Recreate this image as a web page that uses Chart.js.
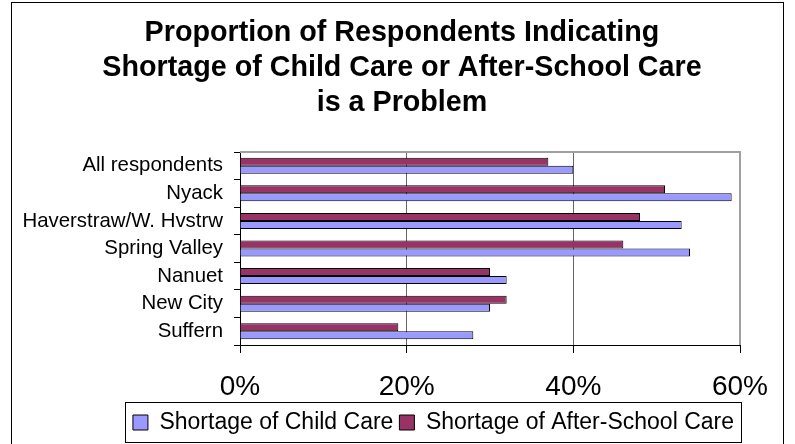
<!DOCTYPE html>
<html>
<head>
<meta charset="utf-8">
<title>Child Care Shortage</title>
<script src="https://cdn.jsdelivr.net/npm/chart.js@4.4.1/dist/chart.umd.min.js"></script>
<style>
  html, body { margin: 0; padding: 0; background: #fff; }
  #wrap { width: 795px; height: 444px; position: relative; }
</style>
</head>
<body>
<div id="wrap"><canvas id="careChart"></canvas></div>
<script>
// survey data (percent of respondents)
var areas = ['All respondents', 'Nyack', 'Haverstraw/W. Hvstrw', 'Spring Valley', 'Nanuet', 'New City', 'Suffern'];
var childCare = [40, 59, 53, 54, 32, 30, 28];
var afterSchool = [37, 51, 48, 46, 30, 32, 19];
var xTicks = [0, 20, 40, 60];
var titleLines = ['Proportion of Respondents Indicating', 'Shortage of Child Care or After-School Care', 'is a Problem'];

var font = 'Liberation Sans, Arial, sans-serif';

// white page, title block, outer frame, grey plot border, legend box
var framePlugin = {
    id: 'frame',
    beforeDraw: function(chart) {
        var c = chart.ctx;
        c.save();
        c.fillStyle = '#fff';
        c.fillRect(0, 0, chart.width, chart.height);
        c.restore();
    },
    afterDraw: function(chart) {
        var c = chart.ctx;
        var a = chart.chartArea;
        c.save();

        c.fillStyle = '#000';
        c.font = 'bold 28.7px ' + font;
        c.textAlign = 'center';
        c.textBaseline = 'alphabetic';
        titleLines.forEach(function(line, i) {
            c.fillText(line, 402, 41 + i * 35);
        });

        c.strokeStyle = '#a0a0a0';
        c.lineWidth = 2;
        c.beginPath();
        c.moveTo(a.left, a.top);
        c.lineTo(a.right, a.top);
        c.lineTo(a.right, a.bottom);
        c.stroke();

        var boxes = chart.legend.legendHitBoxes;
        if (boxes && boxes.length) {
            var l = Math.min.apply(null, boxes.map(function(b) { return b.left; }));
            var r = Math.max.apply(null, boxes.map(function(b) { return b.left + b.width; }));
            var t = boxes[0].top;
            var h = boxes[0].height;
            c.strokeStyle = '#000';
            c.lineWidth = 1;
            c.strokeRect(Math.round(l - 8) + 0.5, Math.round(t - 9) + 0.5, Math.round(r - l + 15), Math.round(h + 17));
        }

        c.strokeStyle = '#000';
        c.lineWidth = 1;
        c.strokeRect(11.5, 2.5, 772, 460);
        c.restore();
    }
};

var ctx = document.getElementById('careChart').getContext('2d');
new Chart(ctx, {
    type: 'bar',
    data: {
        labels: areas,
        datasets: [
            {
                label: 'Shortage of After-School Care',
                data: afterSchool,
                backgroundColor: '#993366',
                borderColor: '#000',
                borderWidth: 1
            },
            {
                label: 'Shortage of Child Care',
                data: childCare,
                backgroundColor: '#9999FF',
                borderColor: '#000',
                borderWidth: 1
            }
        ]
    },
    options: {
        indexAxis: 'y',
        responsive: true,
        maintainAspectRatio: false,
        animation: false,
        layout: {
            padding: { left: 0, right: 55, top: 152, bottom: 0 }
        },
        datasets: {
            bar: { categoryPercentage: 0.58, barPercentage: 1 }
        },
        plugins: {
            title: { display: false },
            legend: {
                position: 'bottom',
                align: 'end',
                labels: {
                    color: '#000',
                    font: { family: font, size: 23 },
                    boxWidth: 15,
                    boxHeight: 15,
                    padding: 6,
                    sort: function(a, b) { return b.datasetIndex - a.datasetIndex; }
                }
            },
            tooltip: { enabled: false }
        },
        scales: {
            x: {
                min: 0,
                max: 60,
                afterBuildTicks: function(scale) {
                    scale.ticks = xTicks.map(function(v) { return { value: v }; });
                },
                afterFit: function(scale) { scale.height = 60; },
                grid: {
                    color: function(c) {
                        if (c.tick.value === 0) return '#000';
                        if (c.tick.value === 60) return '#a0a0a0';
                        return '#666';
                    },
                    tickColor: '#000',
                    tickLength: 8
                },
                border: { color: '#000', width: 1 },
                ticks: {
                    color: '#000',
                    font: { family: font, size: 28 },
                    padding: 17,
                    callback: function(v) { return v + '%'; }
                }
            },
            y: {
                afterFit: function(scale) { scale.width = 240; },
                grid: {
                    offset: true,
                    drawOnChartArea: false,
                    tickColor: '#000',
                    tickLength: 6
                },
                border: { color: '#000', width: 1 },
                ticks: {
                    autoSkip: false,
                    color: '#000',
                    font: { family: font, size: 20.4 },
                    padding: 11
                }
            }
        }
    },
    plugins: [framePlugin]
});
</script>
</body>
</html>
